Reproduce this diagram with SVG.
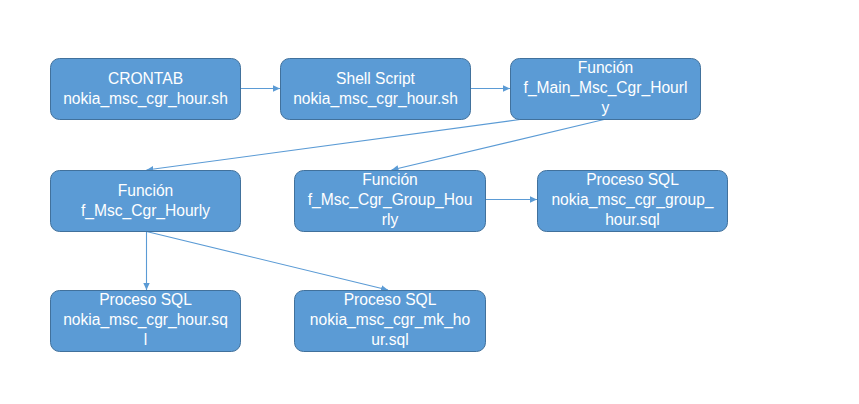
<svg xmlns="http://www.w3.org/2000/svg" width="859" height="404" viewBox="0 0 859 404">
<style>
.box{fill:#5B9BD5;stroke:#41719C;stroke-width:1}
.t{font-family:"Liberation Sans",Arial,sans-serif;font-size:15.6px;fill:#FFFFFF;text-anchor:middle}
.c{stroke:#5B9BD5;stroke-width:1.1;fill:none;marker-end:url(#ah)}
</style>
<defs>
<marker id="ah" markerUnits="userSpaceOnUse" markerWidth="8" markerHeight="8" viewBox="0 0 8 8" refX="7" refY="4" orient="auto">
<path d="M0,0.8 L7,4 L0,7.2 Z" fill="#5B9BD5"/>
</marker>
</defs>
<rect x="0" y="0" width="859" height="404" fill="#FFFFFF"/>
<g id="connectors">
<line class="c" x1="240.5" y1="88.5" x2="280" y2="88.5"/>
<line class="c" x1="470.5" y1="88.5" x2="510" y2="88.5"/>
<line class="c" x1="520" y1="119.5" x2="146.5" y2="170"/>
<line class="c" x1="604" y1="119.5" x2="391.5" y2="170"/>
<line class="c" x1="485.5" y1="199.5" x2="537" y2="199.5"/>
<line class="c" x1="146.5" y1="231.5" x2="146.5" y2="290"/>
<line class="c" x1="146.5" y1="231.5" x2="388" y2="290"/>
</g>
<g id="crontab">
<rect class="box" x="50.5" y="58.5" width="190" height="61" rx="9"/>
<text class="t" x="145.5" y="83.5">CRONTAB</text>
<text class="t" x="145.5" y="103.5">nokia_msc_cgr_hour.sh</text>
</g>
<g id="shell">
<rect class="box" x="280.5" y="58.5" width="190" height="61" rx="9"/>
<text class="t" x="375.5" y="83.5">Shell Script</text>
<text class="t" x="375.5" y="103.5">nokia_msc_cgr_hour.sh</text>
</g>
<g id="main">
<rect class="box" x="510.5" y="58.5" width="190" height="61" rx="9"/>
<text class="t" x="605.5" y="73">Función</text>
<text class="t" x="605.5" y="93">f_Main_Msc_Cgr_Hourl</text>
<text class="t" x="605.5" y="113">y</text>
</g>
<g id="hourly">
<rect class="box" x="50.5" y="170.5" width="190" height="61" rx="9"/>
<text class="t" x="145.5" y="195.5">Función</text>
<text class="t" x="145.5" y="215.5">f_Msc_Cgr_Hourly</text>
</g>
<g id="group">
<rect class="box" x="294.5" y="170.5" width="191" height="61" rx="9"/>
<text class="t" x="390" y="185">Función</text>
<text class="t" x="390" y="205">f_Msc_Cgr_Group_Hou</text>
<text class="t" x="390" y="225">rly</text>
</g>
<g id="sql-group">
<rect class="box" x="537.5" y="170.5" width="190" height="61" rx="9"/>
<text class="t" x="632.5" y="185">Proceso SQL</text>
<text class="t" x="632.5" y="205">nokia_msc_cgr_group_</text>
<text class="t" x="632.5" y="225">hour.sql</text>
</g>
<g id="sql-hour">
<rect class="box" x="50.5" y="290.5" width="190" height="61" rx="9"/>
<text class="t" x="145.5" y="305">Proceso SQL</text>
<text class="t" x="145.5" y="325">nokia_msc_cgr_hour.sq</text>
<text class="t" x="145.5" y="345">l</text>
</g>
<g id="sql-mk">
<rect class="box" x="294.5" y="290.5" width="191" height="61" rx="9"/>
<text class="t" x="390" y="305">Proceso SQL</text>
<text class="t" x="390" y="325">nokia_msc_cgr_mk_ho</text>
<text class="t" x="390" y="345">ur.sql</text>
</g>
</svg>
